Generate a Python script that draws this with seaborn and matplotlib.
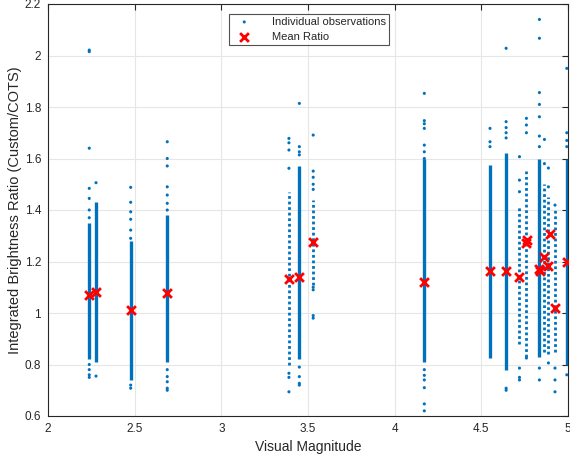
import matplotlib
matplotlib.use("Agg")
from matplotlib import pyplot as plt
import seaborn as sns

# magnitude of each star (one column of observations per star)
star_mag = [2.238, 2.277, 2.477, 2.688, 3.39, 3.45, 3.53, 4.171,
            4.55, 4.643, 4.72, 4.76, 4.835, 4.864, 4.887, 4.925, 4.993]
# bulk of the observations: upper / lower end of the dense column
core_hi = [1.35, 1.43, 1.28, 1.38, 1.47, 1.57, 1.44, 1.60,
           1.575, 1.62, 1.41, 1.55, 1.60, 1.50, 1.45, 1.40, 1.60]
core_lo = [0.82, 0.81, 0.74, 0.81, 0.80, 0.82, 1.11, 0.81,
           0.824, 0.78, 0.88, 0.83, 0.83, 0.85, 0.84, 0.85, 0.80]
# mean ratio per star
mean_mag = [2.238, 2.277, 2.477, 2.688, 3.39, 3.45, 3.53, 4.171,
            4.55, 4.643, 4.72, 4.755, 4.765, 4.83, 4.84, 4.864, 4.887, 4.895, 4.925, 4.993]
mean_ratio = [1.07, 1.083, 1.012, 1.079, 1.131, 1.141, 1.277, 1.12,
              1.164, 1.164, 1.14, 1.273, 1.283, 1.17, 1.164, 1.219, 1.183, 1.307, 1.02, 1.197]

# scattered observations outside the dense columns
obs_mag = ([2.238] * 11 + [2.277] * 2 + [2.477] * 8 + [2.688] * 12 +
           [3.39] * 7 + [3.45] * 8 + [3.53] * 9 + [4.171] * 13 +
           [4.55] * 3 + [4.643] * 7 + [4.72] * 6 + [4.76] * 4 +
           [4.835] * 9 + [4.864] * 2 + [4.887] * 3 + [4.925] * 4 + [4.993] * 5)
obs_ratio = [2.021, 2.015, 1.64, 1.484, 1.445, 1.40, 1.37, 0.80, 0.78, 0.76, 0.75,
             1.506, 0.755,
             1.488, 1.43, 1.393, 1.364, 1.322, 1.29, 0.72, 0.708,
             1.665, 1.60, 1.571, 1.49, 1.458, 1.426, 1.40, 0.78, 0.753, 0.733, 0.708, 0.70,
             1.678, 1.661, 1.633, 1.562, 0.766, 0.75, 0.694,
             1.814, 1.646, 1.626, 1.614, 0.79, 0.753, 0.727, 0.72,
             1.691, 1.551, 1.527, 1.50, 1.48, 1.10, 1.09, 0.99, 0.98,
             1.853, 1.747, 1.735, 1.717, 1.652, 1.626, 1.60, 0.78, 0.758, 0.74, 0.71, 0.647, 0.62,
             1.717, 1.665, 1.646,
             2.028, 1.743, 1.72, 1.70, 1.68, 0.708, 0.70,
             1.607, 1.516, 1.471, 0.786, 0.75, 0.74,
             1.756, 1.73, 1.70, 0.825,
             2.14, 2.067, 1.856, 1.81, 1.762, 1.687, 1.646, 0.786, 0.74,
             1.674, 1.58,
             1.563, 1.49, 0.806,
             1.419, 0.786, 0.74, 0.694,
             1.95, 1.70, 1.67, 1.646, 0.76]

loose = [4, 6, 10, 11, 13, 14, 15]  # columns drawn as dotted
blue = "#0072BD"

sns.set_style("white")
plt.rcParams["font.family"] = ["Liberation Sans", "DejaVu Sans"]

fig = plt.figure(figsize=(5.7, 4.58), dpi=100)
ax = fig.add_axes([48 / 570, 42 / 458, 520 / 570, 412 / 458])

for i, m in enumerate(star_mag):
    if i in loose:
        ax.vlines(m, core_lo[i], core_hi[i], color=blue, linewidth=2.0,
                  linestyles=(0, (1, 1)), zorder=2)
    else:
        ax.vlines(m, core_lo[i], core_hi[i], color=blue, linewidth=2.4, zorder=2)

sns.scatterplot(x=obs_mag, y=obs_ratio, ax=ax, color=blue, s=5, marker="o",
                edgecolor="none", label="Individual observations", zorder=3)
sns.scatterplot(x=mean_mag, y=mean_ratio, ax=ax, color="red", s=40, marker="x",
                linewidth=2, label="Mean Ratio", zorder=4)

ax.set_xlim(2, 5)
ax.set_ylim(0.6, 2.2)
ax.set_xticks([2, 2.5, 3, 3.5, 4, 4.5, 5])
ax.set_xticklabels(["2", "2.5", "3", "3.5", "4", "4.5", "5"])
ax.set_yticks([0.6, 0.8, 1.0, 1.2, 1.4, 1.6, 1.8, 2.0, 2.2])
ax.set_yticklabels(["0.6", "0.8", "1", "1.2", "1.4", "1.6", "1.8", "2", "2.2"])
ax.grid(True, color="#e6e6e6", linewidth=0.8)
ax.set_axisbelow(True)
for s in ax.spines.values():
    s.set_color("#262626")
    s.set_linewidth(0.8)
ax.tick_params(direction="in", top=True, right=True, length=4, width=0.8,
               labelsize=8.5, colors="#262626", pad=5)
ax.set_xlabel("Visual Magnitude", fontsize=10, color="#262626")
ax.set_ylabel("Integrated Brightness Ratio (Custom/COTS)", fontsize=10.5,
              color="#262626", labelpad=2)

leg = ax.legend(loc="upper center", bbox_to_anchor=(0.502, 0.985), fontsize=8,
                frameon=True, fancybox=False, edgecolor="#262626", borderpad=0.3,
                handletextpad=1.4, handlelength=2.2, labelspacing=0.45,
                borderaxespad=0.3)
leg.get_frame().set_linewidth(0.8)
leg.legend_handles[0].set_sizes([5])

fig.savefig("out.png", dpi=100)
